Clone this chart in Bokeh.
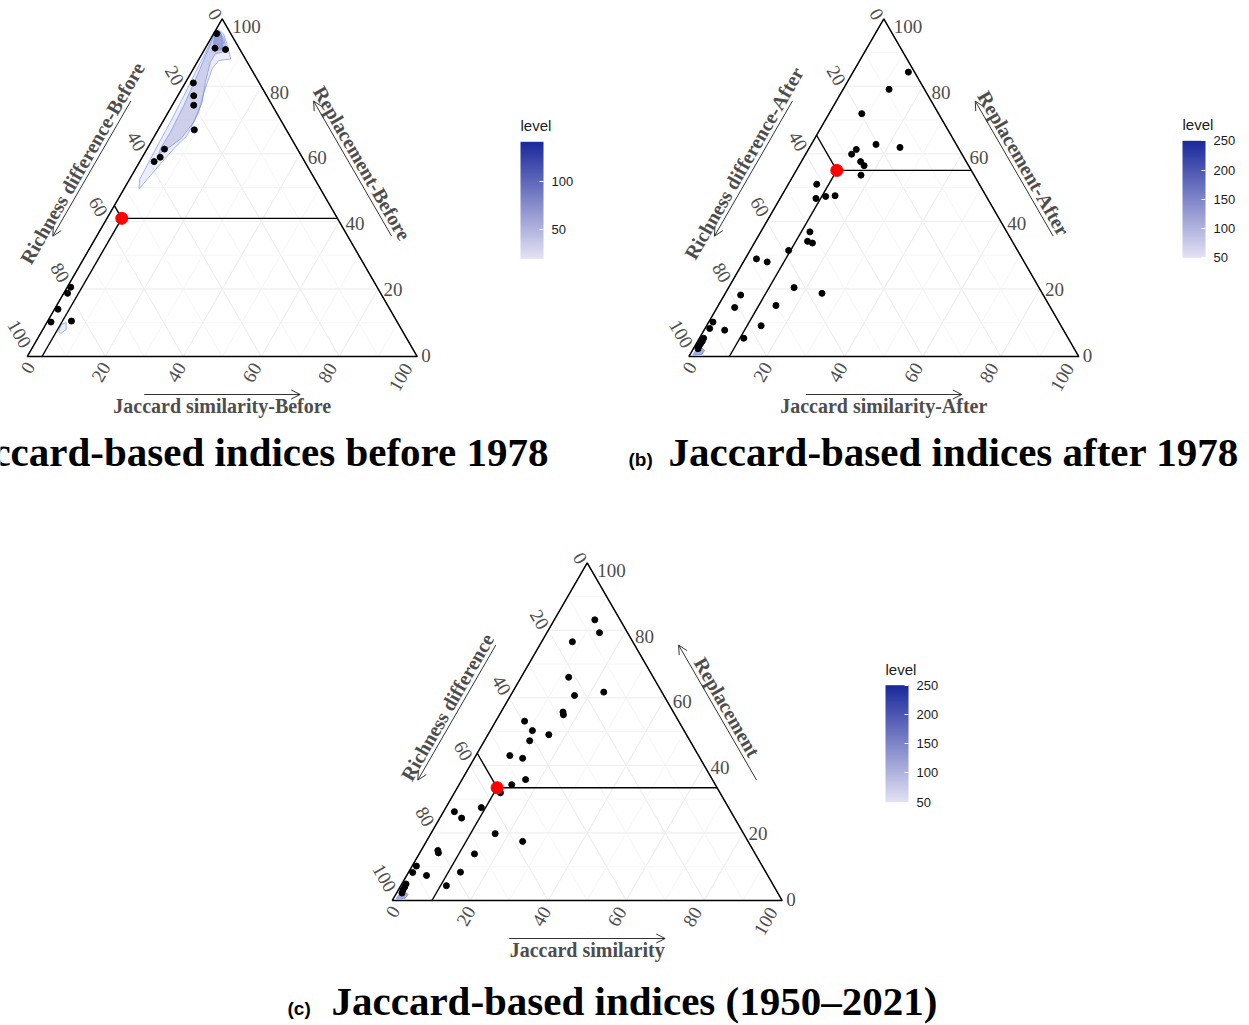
import numpy as np
from bokeh.plotting import figure
from bokeh.models import (Range1d, ColorBar, LinearColorMapper, FixedTicker,
                          Arrow, OpenHead, ColumnDataSource)
from bokeh.core.properties import value
from bokeh.transform import linear_cmap
from bokeh.embed import file_html
from bokeh.resources import INLINE

# ---------------- data (percent) ----------------
# (a) before 1978
a_jaccard = [0.8, 2.5, 5.4, 2.1, 4.1, 5.5, 9.3, 4.5, 4.6, 3.7, 0.9, 1.0, 0.9, 1.0, 6.1]
a_richness = [3.6, 6.2, 3.7, 16.9, 18.7, 20.1, 23.6, 34.1, 36.4, 38.6, 78.6, 80.3, 85.1, 88.8, 83.4]
a_replacement = [95.6, 91.3, 90.9, 81.0, 77.2, 74.4, 67.1, 61.4, 59.0, 57.7, 20.5, 18.7, 14.0, 10.2, 10.5]
a_mean = [3.8, 55.3, 40.9]

# (b) after 1978
b_jaccard = [14.2, 11.8, 8.4, 16.6, 23.2, 12.3, 11.8, 15.2, 16.7, 17.3, 7.3, 9.2, 11.4, 13.7, 12.6,
             13.4, 14.9, 9.9, 2.9, 6.1, 16.8, 24.8, 4.2, 14.8, 4.5, 1.1, 1.2, 5.3, 14.0, 11.4,
             1.1, 1.2, 1.1, 1.1, 1.2]
b_richness = [1.6, 9.1, 19.7, 20.6, 14.9, 26.4, 28.3, 27.1, 26.8, 29.0, 41.7, 44.0, 41.2, 38.7, 50.5,
              52.5, 51.5, 58.7, 68.2, 65.9, 62.8, 56.5, 77.6, 70.1, 81.0, 88.7, 90.5, 86.9, 76.9, 83.2,
              93.5, 94.3, 95.1, 95.9, 96.5]
b_replacement = [84.2, 79.1, 71.9, 62.8, 61.9, 61.3, 59.9, 57.7, 56.5, 53.7, 51.0, 46.8, 47.4, 47.6, 36.9,
                 34.1, 33.6, 31.4, 28.9, 28.0, 20.4, 18.7, 18.2, 15.1, 14.5, 10.2, 8.3, 7.8, 9.1, 5.4,
                 5.4, 4.5, 3.8, 3.0, 2.3]
b_mean = [10.4, 34.5, 55.1]

# (c) 1950-2021
c_jaccard = [10.4, 13.5, 7.9, 12.2, 16.4, 23.4, 15.9, 16.4, 7.4, 10.8, 15.6, 11.6, 8.7, 12.4, 16.3,
             13.5, 11.8, 9.1, 2.8, 5.6, 16.5, 24.7, 4.3, 4.8, 14.2, 1.1, 1.1, 5.1, 13.3, 11.7,
             1.1, 1.2, 1.2, 1.4]
c_richness = [6.5, 7.2, 15.5, 21.7, 22.9, 14.9, 28.3, 28.6, 39.5, 38.9, 35.3, 41.1, 48.4, 45.5, 47.9,
              52.2, 56.3, 63.4, 70.9, 70.0, 63.7, 57.8, 80.9, 81.1, 72.0, 88.7, 90.6, 87.5, 78.3, 83.9,
              94.0, 94.8, 95.7, 96.4]
c_replacement = [83.1, 79.3, 76.6, 66.1, 60.7, 61.7, 55.8, 55.0, 53.1, 50.3, 49.1, 47.3, 42.9, 42.1, 35.8,
                 34.3, 31.9, 27.5, 26.3, 24.4, 19.8, 17.5, 14.8, 14.1, 13.8, 10.2, 8.3, 7.4, 8.4, 4.4,
                 4.9, 4.0, 3.1, 2.2]
c_mean = [10.2, 56.4, 33.4]

# density contours (Jaccard, Replacement; richness = remainder) and their levels
a_cont_jac = [
    [0.7, 2.6, 4.9, 7.1, 8.1, 6.8, 5.3, 4.8, 6.2, 7.8, 8.3, 6.8, 5.8, 4.8, 4.0, 3.8, 2.6, 2.4, 2.2, 2.0, 1.5, 1.0, 0.6, 0.3],
    [0.2, 1.2, 3.4, 5.1, 4.9, 3.4, 3.4, 5.1, 7.2, 8.0, 7.2, 5.2, 3.8, 3.4, 3.5, 3.0, 2.1, 1.2, 0.6],
    [0.5, 1.6, 3.8, 4.4, 2.9, 1.3],
    [4.0, 5.0, 6.0, 5.2, 4.3],
]
a_cont_rep = [
    [96.8, 95.5, 92.6, 89.6, 88.1, 87.9, 87.6, 85.2, 78.3, 72.3, 65.4, 61.5, 57.5, 53.6, 50.1, 49.7, 52.6, 57.5, 62.0, 69.4, 78.3, 85.2, 91.6, 95.5],
    [96.0, 96.2, 94.1, 91.6, 90.1, 89.6, 87.1, 81.2, 75.3, 69.4, 64.5, 61.5, 60.0, 61.5, 66.4, 74.3, 82.2, 89.1, 93.6],
    [95.6, 95.9, 93.0, 90.9, 90.6, 93.0],
    [9.5, 10.0, 8.0, 6.8, 7.5],
]
a_cont_level = [30, 60, 110, 30]
bc_cont_jac = [[0.8, 3.0, 3.2, 2.0, 0.8]]
bc_cont_rep = [[0.5, 0.6, 1.8, 2.6, 1.8]]
bc_cont_level = [240]

tick_values = [0, 20, 40, 60, 80, 100]
a_level_range, a_level_ticks = (19, 141), [50, 100]
bc_level_range, bc_level_ticks = (50, 250), [50, 100, 150, 200, 250]

# ---------------- layout helpers ----------------
W, HGT = 1249, 1025
SIDE = 390.0
TH = SIDE * np.sqrt(3) / 2
SERIF = value("Liberation Serif")
SANS = value("Liberation Sans")
GREY = "#4D4D4D"


def sy(y_screen):
    return HGT - y_screen


def tern(o, j, d, r):
    j = np.atleast_1d(np.asarray(j, float))
    d = np.atleast_1d(np.asarray(d, float))
    r = np.atleast_1d(np.asarray(r, float))
    tot = j + d + r
    return o[0] + (j + 0.5 * r) / tot * SIDE, o[1] + r / tot * TH


lo_c = np.array([0xE4, 0xE2, 0xF4], float)
hi_c = np.array([0x1A, 0x29, 0x9C], float)
PAL = ['#%02x%02x%02x' % tuple(int(round(c)) for c in lo_c + (hi_c - lo_c) * k / 255.0) for k in range(256)]

p = figure(width=W, height=HGT, x_range=Range1d(0, W), y_range=Range1d(0, HGT),
           output_backend="svg", toolbar_location=None, min_border=0,
           x_axis_type=None, y_axis_type=None)
p.grid.visible = False
p.outline_line_color = None
p.background_fill_color = "white"


def draw_panel(o, jac, rich, rep, mean, names, cj, cr, clev, lrange):
    # grid
    for step, col in [(10, "#F6F6F6"), (20, "#EEEEEE")]:
        gx, gy = [], []
        for v in range(step, 100, step):
            for p1, p2 in [((v, 100 - v, 0), (v, 0, 100 - v)),
                           ((100 - v, v, 0), (0, v, 100 - v)),
                           ((100 - v, 0, v), (0, 100 - v, v))]:
                x, y = tern(o, [p1[0], p2[0]], [p1[1], p2[1]], [p1[2], p2[2]])
                gx.append(list(x)); gy.append(list(y))
        p.multi_line(gx, gy, line_color=col, line_width=1)
    # density contours
    xs, ys = [], []
    for jj, rr in zip(cj, cr):
        jj = np.array(jj); rr = np.array(rr)
        x, y = tern(o, jj, 100 - jj - rr, rr)
        xs.append(list(x)); ys.append(list(y))
    src = ColumnDataSource(dict(xs=xs, ys=ys, level=clev))
    p.patches("xs", "ys", source=src,
              fill_color=linear_cmap("level", PAL, lrange[0], lrange[1]),
              fill_alpha=0.4, line_color="#5A78F0", line_alpha=0.55, line_width=1)
    # triangle
    ex, ey = tern(o, [0, 100, 0, 0], [100, 0, 0, 100], [0, 0, 100, 0])
    p.line(ex, ey, line_color="black", line_width=1.5)
    # mean guide lines
    j0, d0, r0 = mean
    for a_, b_ in [((j0, d0, r0), (j0 + d0, 0, r0)),
                   ((j0, d0, r0), (j0, d0 + r0, 0)),
                   ((j0, d0, r0), (0, d0, r0 + j0))]:
        x, y = tern(o, [a_[0], b_[0]], [a_[1], b_[1]], [a_[2], b_[2]])
        p.line(x, y, line_color="black", line_width=1.4)
    # points
    x, y = tern(o, jac, rich, rep)
    p.scatter(x, y, size=6, color="black")
    mx, my = tern(o, [j0], [d0], [r0])
    p.scatter(mx, my, size=12, color="#FF0000")

    # tick labels
    t = np.array(tick_values, float)
    f = t / 100.0
    txt = [str(v) for v in tick_values]
    # right axis (Replacement)
    x, y = tern(o, 100 - t, 0 * t, t)
    p.text(x + 4 + 6 * f, y - (-1 + 8.5 * f), text=txt, text_font=SERIF, text_font_size="19px",
           text_color=GREY, text_align="left", text_baseline="middle")
    # left axis (Richness difference)
    x, y = tern(o, 0 * t, t, 100 - t)
    p.text(x + (-4.6 + 4.15 * f), y - (-0.6 - 9.6 * f), text=txt, text_font=SERIF, text_font_size="19px",
           text_color=GREY, text_align="right", text_baseline="middle", angle=-60, angle_units="deg")
    # bottom axis (Jaccard similarity)
    x, y = tern(o, t, 100 - t, 0 * t)
    p.text(x + (3 - 12.7 * f), y - (7 + 1.2 * f), text=txt, text_font=SERIF, text_font_size="19px",
           text_color=GREY, text_align="right", text_baseline="middle", angle=60, angle_units="deg")

    # axis titles
    c32 = np.sqrt(3) / 2
    bx, by = tern(o, [50], [50], [0])
    p.text(bx, by - 49, text=[names[0]], text_font=SERIF, text_font_size="20px", text_font_style="bold",
           text_color=GREY, text_align="center", text_baseline="middle")
    lx, ly = tern(o, [0], [50], [50])
    p.text(lx - c32 * 49, ly + 0.5 * 49, text=[names[1]], text_font=SERIF, text_font_size="20px",
           text_font_style="bold", text_color=GREY, text_align="center", text_baseline="middle",
           angle=60, angle_units="deg")
    rx, ry = tern(o, [50], [0], [50])
    p.text(rx + c32 * 49, ry + 0.5 * 49, text=[names[2]], text_font=SERIF, text_font_size="20px",
           text_font_style="bold", text_color=GREY, text_align="center", text_baseline="middle",
           angle=-60, angle_units="deg")

    # axis arrows
    off = 38
    for (s, e, dx, dy) in [((30, 70, 0), (70, 30, 0), 0, -off),
                           ((0, 30, 70), (0, 70, 30), -c32 * off, 0.5 * off),
                           ((70, 0, 30), (30, 0, 70), c32 * off, 0.5 * off)]:
        x, y = tern(o, [s[0], e[0]], [s[1], e[1]], [s[2], e[2]])
        p.add_layout(Arrow(x_start=x[0] + dx, y_start=y[0] + dy, x_end=x[1] + dx, y_end=y[1] + dy,
                           line_color="#333333", line_width=1,
                           end=OpenHead(size=9, line_width=1, line_color="#333333")))


draw_panel((26.7, sy(356)), a_jaccard, a_richness, a_replacement, a_mean,
           ["Jaccard similarity-Before", "Richness difference-Before", "Replacement-Before"],
           a_cont_jac, a_cont_rep, a_cont_level, a_level_range)
draw_panel((688.3, sy(356)), b_jaccard, b_richness, b_replacement, b_mean,
           ["Jaccard similarity-After", "Richness difference-After", "Replacement-After"],
           bc_cont_jac, bc_cont_rep, bc_cont_level, bc_level_range)
draw_panel((391.7, sy(900)), c_jaccard, c_richness, c_replacement, c_mean,
           ["Jaccard similarity", "Richness difference", "Replacement"],
           bc_cont_jac, bc_cont_rep, bc_cont_level, bc_level_range)

# panel titles
p.text([548], [sy(451)], text=["Jaccard-based indices before 1978"], text_font=SERIF,
       text_font_size="41px", text_font_style="bold", text_color="black",
       text_align="right", text_baseline="alphabetic")
p.text([628], [sy(459)], text=["(b)"], text_font=SANS, text_font_size="19px", text_font_style="bold",
       text_color="black", text_align="left", text_baseline="alphabetic")
p.text([668], [sy(451)], text=["Jaccard-based indices after 1978"], text_font=SERIF,
       text_font_size="41px", text_font_style="bold", text_color="black",
       text_align="left", text_baseline="alphabetic")
p.text([287], [sy(1008)], text=["(c)"], text_font=SANS, text_font_size="19px", text_font_style="bold",
       text_color="black", text_align="left", text_baseline="alphabetic")
p.text([331], [sy(1000)], text=["Jaccard-based indices (1950\u20132021)"], text_font=SERIF,
       text_font_size="41px", text_font_style="bold", text_color="black",
       text_align="left", text_baseline="alphabetic")


def add_cbar(lrange, ticks, loc):
    mapper = LinearColorMapper(palette=PAL, low=lrange[0], high=lrange[1])
    cb = ColorBar(color_mapper=mapper, ticker=FixedTicker(ticks=ticks), location=loc,
                  orientation="vertical", width=23, height=117, padding=0,
                  major_label_text_font="Liberation Sans", major_label_text_font_size="13px",
                  major_label_text_color="#1A1A1A", major_tick_line_color="white",
                  major_tick_in=4, major_tick_out=0, minor_tick_line_color=None,
                  label_standoff=8, bar_line_color=None, border_line_color=None,
                  background_fill_alpha=0)
    p.add_layout(cb, "center")
    p.text([loc[0]], [loc[1] + 117 + 16], text=["level"], text_font=SANS, text_font_size="15px",
           text_color="#1A1A1A", text_align="left", text_baseline="middle")


add_cbar(a_level_range, a_level_ticks, (520, sy(258.3)))
add_cbar(bc_level_range, bc_level_ticks, (1182, sy(257.3)))
add_cbar(bc_level_range, bc_level_ticks, (885, sy(801.7)))

open("out.html", "w").write(file_html(p, INLINE))
